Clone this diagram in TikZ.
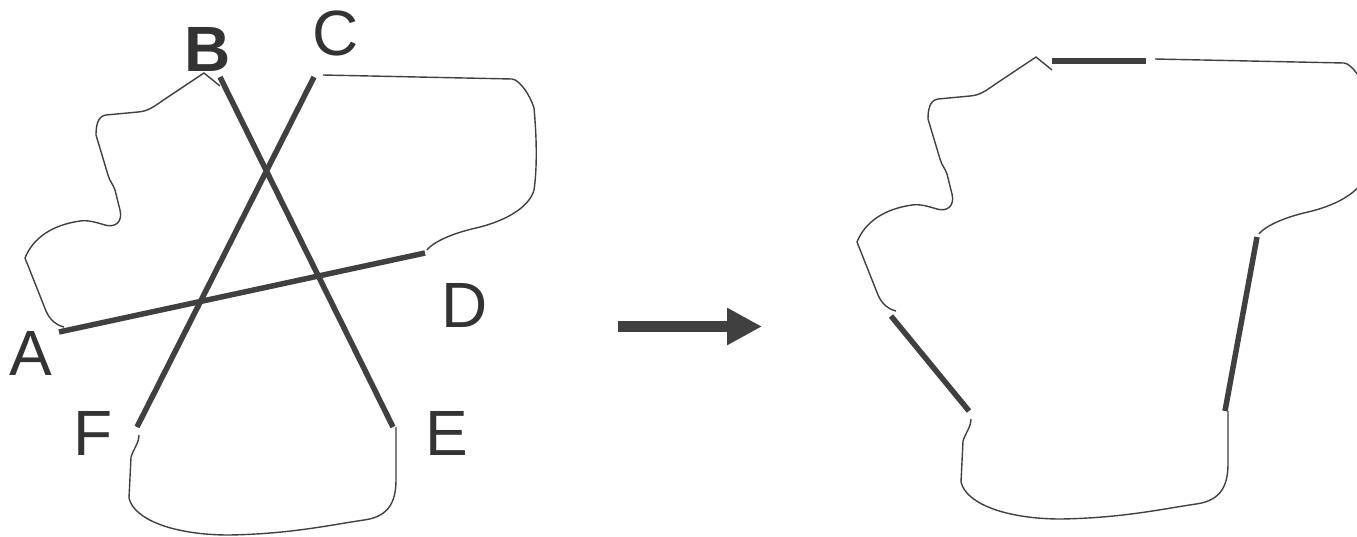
\documentclass[tikz,border=0pt]{standalone}
\usepackage{fontspec}
\setmainfont{Liberation Sans}
\usetikzlibrary{arrows.meta}
\definecolor{ink}{RGB}{64,64,64}
\definecolor{letter}{RGB}{51,51,51}
\tikzset{
  edge/.style={draw=ink, line width=1.4pt, line join=round},
  cut/.style={draw=ink, line width=5.5pt},
  lbl/.style={inner sep=0pt, text=letter, font=\fontsize{64}{70}\selectfont},
  % the irregular region with its six boundary points A..F
  region/.pic={
    \coordinate (-A) at (59,332);
    \coordinate (-B) at (220,77);
    \coordinate (-C) at (314,77);
    \coordinate (-D) at (425,253);
    \coordinate (-E) at (393,427);
    \coordinate (-F) at (137,427);
    % left boundary, from B round to A
    \path[edge] (220,86) -- (204,73) -- (165,99)
      .. controls (152,108) and (148,111) .. (138,112) -- (106,115)
      .. controls (98,116) and (96,125) .. (96,135) -- (108,175)
      .. controls (110,182) and (113,184) .. (115,190) -- (120,210)
      .. controls (123,222) and (115,228) .. (105,225)
      .. controls (95,222) and (88,220) .. (80,221)
      .. controls (52,225) and (33,238) .. (25,258) -- (46,311)
      .. controls (50,320) and (56,325) .. (64,327);
    % upper right boundary, from C round to D
    \path[edge] (323,75) -- (512,79)
      .. controls (520,80) and (530,95) .. (534,108)
      .. controls (537,140) and (537,170) .. (534,190)
      .. controls (530,205) and (510,220) .. (476,228)
      .. controls (458,232) and (435,240) .. (427,250);
    % lower boundary, from F round to E
    \path[edge] (139,435) .. controls (139,443) and (133,450) .. (131,457)
      -- (129,498) .. controls (134,520) and (175,535) .. (229,535)
      .. controls (290,534) and (330,525) .. (364,520)
      .. controls (386,517) and (396,505) .. (396,480) -- (396,427);
  }
}
\begin{document}
\begin{tikzpicture}[x=1pt, y=-1pt]
  \useasboundingbox (0,0) rectangle (1357,536);
  \clip (0,0) rectangle (1357,536);

  % before: the region crossed by three chords
  \pic (L) at (0,0) {region};
  \draw[cut] (L-A) -- (L-D);
  \draw[cut] (L-B) -- (L-E);
  \draw[cut] (L-C) -- (L-F);

  \node[lbl] (la) at (31,353) {A};
  \node[lbl, font=\fontsize{64}{70}\selectfont\bfseries] (lb) at (208,49) {B};
  \node[lbl] (lc) at (336,33) {C};
  \node[lbl] (ld) at (465,305) {D};
  \node[lbl] (le) at (447,433) {E};
  \node[lbl] (lf) at (93,433) {F};

  % transformation arrow
  \coordinate (arrS) at (618,326.5);
  \coordinate (arrE) at (762,326.5);
  \draw[ink, line width=11.5pt, -{Triangle[length=35pt, width=35pt]}] (arrS) -- (arrE);

  % after: the chords replaced by boundary segments
  \pic (R) at (832,-16) {region};
  \draw[cut] (R-B) -- (R-C);
  \draw[cut] (R-A) -- (R-F);
  \draw[cut] (R-E) -- (R-D);
\end{tikzpicture}
\end{document}
